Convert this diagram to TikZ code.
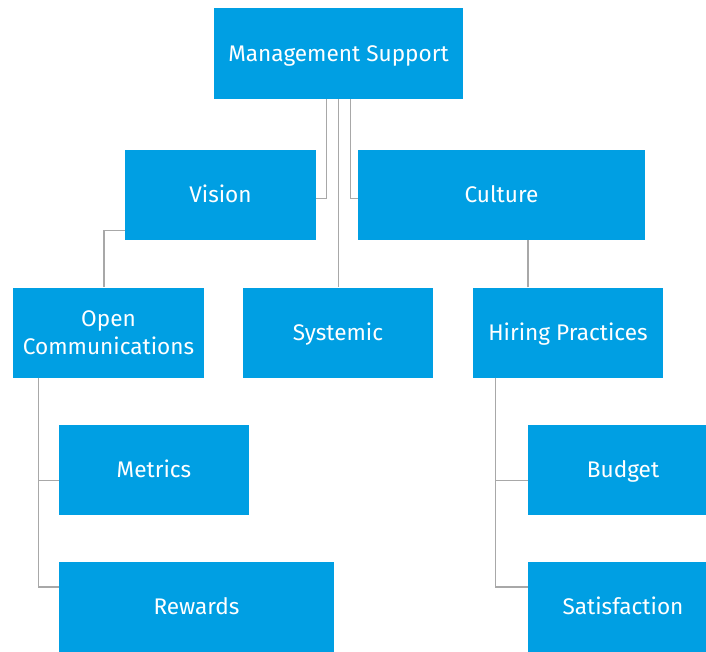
\documentclass[tikz,border=0pt]{standalone}
\usepackage{fontspec}
\setmainfont{Fira Sans}
\usepackage{tikz}

\definecolor{boxblue}{RGB}{0,159,227}
\definecolor{linegray}{RGB}{168,168,168}

\tikzset{
  box/.style={rectangle, fill=boxblue, text=white, inner sep=0pt, align=center,
    minimum width=190pt, minimum height=90pt, font=\fontsize{22.6}{28}\selectfont},
  onebox/.style={box, text height=15.6pt, text depth=0pt},
  conn/.style={draw=linegray, line width=1.2pt}
}

\begin{document}
\begin{tikzpicture}[line cap=butt, line join=miter, x=1pt, y=-1pt]

                \useasboundingbox (0,0) rectangle (706,651);
                \clip (0,0) rectangle (706,651);

                \node[onebox, minimum width=249pt, minimum height=91pt] (ms) at (338.5,53.5) {Management Support};
                \node[onebox, minimum width=191pt] (vision) at (220.5,194.5) {Vision};
                \node[onebox, minimum width=287pt] (culture) at (501.5,194.5) {Culture};
                \node[box, minimum width=191pt] (opencomm) at (108.5,332.5) {Open\\Communications};
                \node[onebox] (systemic) at (338,332.5) {Systemic};
                \node[onebox] (hiring) at (568,332.5) {Hiring Practices};
                \node[onebox] (metrics) at (154,469.5) {Metrics};
                \node[onebox, minimum width=275pt] (rewards) at (196.5,607) {Rewards};
                \node[onebox] (budget) at (623,469.5) {Budget};
                \node[onebox] (satisf) at (623,607) {Satisfaction};

                \draw[conn] ([xshift=-12pt]ms.south) |- ([yshift=-4pt]vision.east);
                \draw[conn] (ms.south) -- (ms.south |- systemic.north);
                \draw[conn] ([xshift=12pt]ms.south) |- ([yshift=-4pt]culture.west);

                \draw[conn] ([yshift=9.5pt]vision.south west) -| ([xshift=-4.5pt]opencomm.north);
                \draw[conn] ([xshift=-40pt]hiring.north) -- ([xshift=-40pt]hiring.north |- culture.south);

                \draw[conn] ([xshift=26pt]opencomm.south west) |- ([yshift=-11pt]metrics.west);
                \draw[conn] ([xshift=26pt]opencomm.south west) |- ([yshift=20pt]rewards.west);

                \draw[conn] ([xshift=23pt]hiring.south west) |- ([yshift=-11pt]budget.west);
                \draw[conn] ([xshift=23pt]hiring.south west) |- ([yshift=20pt]satisf.west);

\end{tikzpicture}
\end{document}
